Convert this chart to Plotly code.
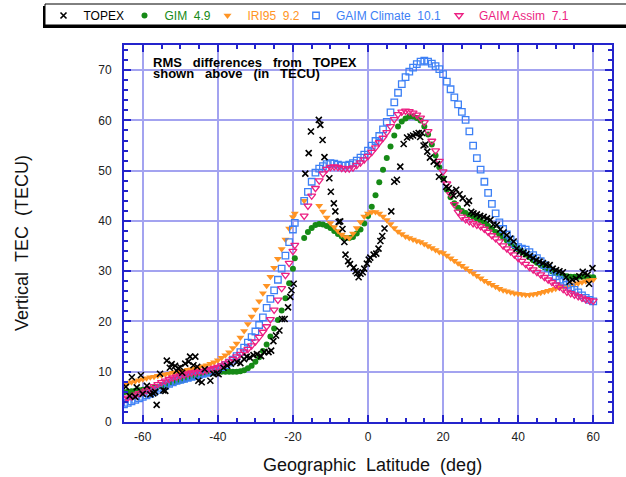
import plotly.graph_objects as go

NB = "\u00a0"

# ---------------- data ----------------
# model sampling latitudes (deg); gap between -19.5 and -17 as in the reference
LAT = list(range(-65, -19)) + [-19.5] + list(range(-17, 61))

GIM = [
    5.9, 6.0, 6.1, 6.2, 6.3, 6.4, 6.5, 6.6, 6.8, 7.0,
    7.2, 7.4, 7.6, 7.8, 8.0, 8.2, 8.4, 8.7, 8.9, 9.1,
    9.3, 9.5, 9.7, 9.8, 9.9, 10.0, 10.0, 10.0, 10.0, 10.0,
    10.0, 10.1, 10.3, 10.7, 11.2, 12.0, 12.9, 14.1, 15.4, 17.0,
    18.6, 20.3, 22.2, 24.6, 27.6, 30.5,
    32.6,
    36.6, 37.8, 38.6, 39.2, 39.4, 39.3, 39.0, 38.6, 38.0, 37.4,
    36.9, 36.6, 36.6, 36.8, 37.5, 38.3, 39.5, 41.0, 42.8, 45.1,
    47.7, 50.2, 52.5, 54.8, 57.0, 58.8, 59.8, 60.4, 60.8, 60.8,
    60.5, 60.0, 58.8, 57.2, 55.2, 53.0, 50.7, 48.5, 46.2, 44.7,
    43.5, 42.6, 42.0, 41.6, 41.2, 40.9, 40.5, 40.1, 39.6, 39.0,
    38.4, 37.8, 37.3, 36.7, 36.1, 35.5, 34.9, 34.3, 33.8, 33.3,
    32.8, 32.2, 31.7, 31.2, 30.8, 30.4, 30.0, 29.7, 29.4, 29.1,
    29.0, 28.9, 28.9, 28.9, 28.9, 28.9, 28.8, 28.8,
]

IRI95 = [
    7.5, 7.7, 7.9, 8.1, 8.3, 8.5, 8.7, 8.9, 9.0, 9.2,
    9.3, 9.5, 9.6, 9.8, 9.9, 10.1, 10.2, 10.4, 10.5, 10.7,
    10.9, 11.1, 11.3, 11.6, 11.9, 12.3, 12.8, 13.3, 13.9, 14.7,
    15.6, 16.8, 18.1, 19.5, 21.0, 22.4, 24.0, 25.6, 27.1, 28.9,
    30.7, 32.5, 34.4, 36.3, 38.5, 40.8,
    41.5,
    44.0, None, None, None, 43.0, 41.9, 40.7, 39.6, 38.8, 38.0,
    37.3, 36.8, 36.6, 37.5, 38.6, 39.8, 40.9, 41.5, 41.8, 41.8,
    41.5, 40.9, 40.2, 39.4, 38.6, 37.9, 37.4, 36.9, 36.6, 36.3,
    36.0, 35.8, 35.4, 35.0, 34.6, 34.2, 33.8, 33.6, 33.1, 32.6,
    32.1, 31.6, 31.1, 30.6, 30.1, 29.6, 29.1, 28.6, 28.1, 27.7,
    27.3, 26.9, 26.5, 26.2, 26.0, 25.8, 25.6, 25.5, 25.4, 25.3,
    25.3, 25.4, 25.5, 25.7, 25.9, 26.1, 26.3, 26.5, 26.7, 26.9,
    27.1, 27.2, 27.4, 27.6, 27.8, 28.0, 28.2, 28.3,
]

GAIM_CLIMATE = [
    3.5, 3.8, 4.1, 4.4, 4.7, 5.0, 5.3, 5.6, 6.0, 6.4,
    6.8, 7.2, 7.6, 7.9, 8.2, 8.4, 8.6, 8.8, 9.0, 9.2,
    9.4, 9.6, 9.8, 10.0, 10.2, 10.5, 10.9, 11.3, 11.8, 12.4,
    13.1, 13.9, 14.8, 15.8, 16.9, 18.0, 19.3, 20.8, 22.7, 24.5,
    26.2, 28.3, 30.5, 33.1, 35.8, 38.3,
    39.6,
    44.0, 45.8, 47.8, 49.6, 50.4, 50.9, 51.3, 51.5, 51.4, 51.2,
    51.0, 51.0, 51.2, 51.5, 52.0, 52.6, 53.2, 54.0, 55.0, 55.9,
    56.9, 58.2, 59.7, 61.6, 63.6, 65.5, 67.2, 68.6, 69.7, 70.5,
    71.2, 71.7, 71.9, 71.7, 71.3, 70.8, 70.2, 69.2, 67.7, 66.2,
    64.6, 63.2, 61.7, 60.1, 57.8, 55.0, 52.5, 50.2, 47.8, 45.6,
    43.4, 41.5, 39.7, 38.4, 37.3, 36.3, 35.4, 34.8, 34.5, 34.3,
    33.8, 33.2, 32.6, 32.0, 31.2, 30.5, 29.8, 29.0, 28.3, 27.9,
    27.3, 26.8, 26.3, 25.8, 25.2, 24.7, 24.3, 24.0,
]

GAIM_ASSIM = [
    4.5, 4.8, 5.1, 5.4, 5.7, 6.0, 6.3, 6.7, 7.1, 7.5,
    7.9, 8.2, 8.5, 8.8, 9.0, 9.2, 9.4, 9.6, 9.8, 9.9,
    10.0, 10.1, 10.3, 10.5, 10.7, 10.9, 11.2, 11.6, 12.0, 12.5,
    13.0, 13.5, 14.0, 14.5, 15.2, 16.0, 16.9, 17.9, 19.0, 20.4,
    22.3, 24.3, 26.6, 29.2, 31.6, 34.0,
    35.2,
    41.0, 43.0, 45.0, 46.5, 48.0, 49.4, 50.3, 50.7, 50.8, 50.7,
    50.5, 50.4, 50.4, 50.6, 51.1, 51.6, 52.2, 52.9, 53.7, 54.6,
    55.6, 56.5, 57.6, 58.8, 60.2, 61.2, 61.7, 61.9, 61.8, 61.5,
    61.1, 60.5, 59.6, 57.8, 55.9, 54.0, 51.9, 49.8, 47.4, 45.3,
    43.3, 41.8, 40.8, 40.3, 39.9, 39.5, 39.2, 38.9, 38.4, 37.8,
    37.1, 36.5, 35.9, 35.1, 34.5, 33.9, 33.3, 32.6, 32.0, 31.4,
    30.8, 30.3, 29.8, 29.3, 28.8, 28.3, 27.8, 27.3, 26.9, 26.4,
    25.9, 25.6, 25.3, 25.0, 24.7, 24.4, 24.2, 24.1,
]

TOPEX_LAT = [
    -64.5, -63.5, -62.9, -62.0, -61.6, -60.5, -60.0, -58.9, -58.0, -57.2,
    -56.7, -56.3, -55.4, -54.5, -54.0, -53.6, -52.8, -52.3, -51.4, -51.0,
    -50.5, -50.0, -49.5, -48.7, -47.8, -47.4, -46.5, -46.0, -45.5, -45.2,
    -44.3, -43.5, -42.0, -41.2, -40.3, -39.8, -38.5, -37.5, -36.5, -34.9,
    -34.0, -33.0, -32.3, -31.5, -30.5, -29.6, -28.5, -27.6, -26.5, -25.8,
    -25.2, -24.5, -23.6, -22.9, -22.2, -21.3, -20.7, -20.4, -19.8,
    -16.7, -15.8, -15.2, -13.1, -12.7, -12.1, -11.6, -10.3, -9.9, -9.1,
    -8.7, -7.8, -7.4, -6.8, -6.3, -6.0, -5.3, -4.8, -3.8, -3.3,
    -2.9, -2.5, -2.0, -1.4, -1.0, -0.3, 0.2, 0.6, 1.5, 2.2,
    2.8, 3.3, 3.8, 4.4, 6.2, 7.0, 7.7, 8.6, 9.5, 10.4,
    11.3, 12.0, 12.8, 13.5, 13.9, 14.4, 14.8, 15.3, 15.8, 16.5,
    17.5, 18.4, 18.9, 20.2, 20.8, 21.5, 22.3, 22.8, 23.5, 24.4,
    25.2, 26.4, 26.9, 27.5, 28.1, 29.0, 29.9, 30.8, 31.7, 32.6,
    33.4, 34.3, 35.2, 36.1, 37.0, 37.9, 38.8, 39.6, 40.5, 41.4,
    42.2, 43.1, 44.0, 44.8, 45.7, 46.6, 47.5, 48.4, 49.2, 50.1,
    51.0, 51.9, 52.8, 53.7, 54.5, 55.4, 56.3, 57.2, 57.8, 58.5,
    58.9, 59.8,
]
TOPEX_TEC = [
    7.0, 5.2, 8.9, 5.0, 6.9, 9.3, 5.6, 7.2, 5.5, 5.7,
    6.0, 3.4, 9.6, 6.3, 6.2, 12.2, 10.8, 11.5, 11.2, 10.2,
    10.7, 10.9, 9.8, 11.6, 12.0, 13.0, 11.3, 13.0, 11.0, 8.2,
    7.9, 10.5, 8.2, 9.6, 9.7, 9.5, 10.8, 11.2, 11.6, 11.9,
    11.7, 12.5, 13.0, 12.8, 13.3, 13.5, 13.1, 13.9, 13.9, 14.2,
    16.1, 17.2, 18.2, 20.5, 20.5, 22.8, 24.9, 26.2, 27.5,
    49.4, 53.5, 57.8, 60.1, 59.1, 56.1, 52.7, 48.5, 45.8, 43.5,
    41.9, 39.8, 39.9, 38.4, 35.8, 33.3, 32.0, 31.4, 30.7, 30.0,
    29.6, 28.8, 29.5, 29.8, 30.5, 31.5, 32.3, 32.7, 33.3, 33.5,
    34.5, 36.0, 37.0, 38.5, 41.9, 47.8, 48.2, 50.8, 55.3, 56.6,
    56.8, 57.0, 57.3, 57.5, 56.7, 57.5, 55.0, 55.2, 53.8, 52.6,
    51.8, 51.3, 48.8, 48.3, 46.8, 46.5, 45.8, 45.0, 46.2, 45.3,
    44.5, 43.5, 44.0, 41.8, 41.5, 41.3, 41.0, 40.8, 40.5, 40.2,
    39.3, 39.2, 38.3, 37.7, 37.2, 36.5, 35.9, 34.5, 34.0, 33.7,
    33.4, 33.0, 32.6, 32.2, 31.9, 31.6, 31.3, 31.2, 30.5, 30.2,
    30.0, 29.8, 28.8, 27.9, 28.3, 28.5, 29.0, 29.9, 29.6, 29.3,
    27.5, 30.6,
]

RMS = {"GIM": "4.9", "IRI95": "9.2", "GAIM Climate": "10.1", "GAIM Assim": "7.1"}

X_TICKS = [-60, -40, -20, 0, 20, 40, 60]
Y_TICKS = [0, 10, 20, 30, 40, 50, 60, 70]

# ---------------- style ----------------
C_GIM = "#168a16"
C_IRI = "#ff9424"
C_CLIM = "#3d80f5"
C_ASSIM = "#ec1f82"
AXIS_BLUE = "#2424cc"
GRID_BLUE = "#a3a3f0"
FONT = "Liberation Sans, Arial, sans-serif"

W, H = 626, 477
ML, MR, MT, MB = 124, 14, 45, 55
PW, PH = W - ML - MR, H - MT - MB


def px2x(px):
    return (px - ML) / PW


def py2y(py):
    return (H - MB - py) / PH


def lname(label, color):
    txt = label if label not in RMS else label + NB + NB + RMS[label]
    return "<span style='color:%s'>%s</span>" % (color, txt)


fig = go.Figure()

fig.add_trace(go.Scatter(
    x=LAT, y=GIM, mode="markers", name=lname("GIM", C_GIM), legend="legend2",
    marker=dict(symbol="circle", size=6, color=C_GIM, line=dict(width=0)),
))
fig.add_trace(go.Scatter(
    x=LAT, y=IRI95, mode="markers", name=lname("IRI95", C_IRI), legend="legend3",
    marker=dict(symbol="triangle-down", size=7, color=C_IRI, line=dict(width=0)),
))
fig.add_trace(go.Scatter(
    x=LAT, y=GAIM_CLIMATE, mode="markers", name=lname("GAIM Climate", C_CLIM), legend="legend4",
    marker=dict(symbol="square-open", size=6.5, color=C_CLIM, line=dict(width=1.3, color=C_CLIM)),
))
fig.add_trace(go.Scatter(
    x=LAT, y=GAIM_ASSIM, mode="markers", name=lname("GAIM Assim", C_ASSIM), legend="legend5",
    marker=dict(symbol="triangle-down-open", size=7, color=C_ASSIM, line=dict(width=1.3, color=C_ASSIM)),
))
fig.add_trace(go.Scatter(
    x=TOPEX_LAT, y=TOPEX_TEC, mode="markers", name=lname("TOPEX", "#000000"), legend="legend",
    marker=dict(symbol="x-thin", size=6, color="#000000", line=dict(width=1.6, color="#000000")),
))

axis_common = dict(
    showline=True, linecolor=AXIS_BLUE, linewidth=2, mirror="ticks",
    ticks="inside", ticklen=7, tickwidth=2, tickcolor=AXIS_BLUE,
    showgrid=True, gridcolor=GRID_BLUE, gridwidth=1.5,
    zeroline=False,
    tickfont=dict(family=FONT, size=12, color="#222222"),
)

fig.update_xaxes(
    range=[-65, 65], tickvals=X_TICKS, ticktext=[str(v) for v in X_TICKS],
    minor=dict(dtick=5, tick0=0, ticks="inside", ticklen=4, tickwidth=1.5,
               tickcolor=AXIS_BLUE, showgrid=False),
    ticklabelstandoff=3,
    **axis_common,
)
fig.update_yaxes(
    range=[0, 75], tickvals=Y_TICKS, ticktext=[str(v) for v in Y_TICKS],
    minor=dict(dtick=2, tick0=0, ticks="inside", ticklen=4, tickwidth=1.5,
               tickcolor=AXIS_BLUE, showgrid=False),
    ticklabelstandoff=8,
    **axis_common,
)

# axis titles
fig.add_annotation(xref="paper", yref="paper", x=px2x(372), y=py2y(465),
                   xanchor="center", yanchor="middle", showarrow=False,
                   text="Geographic" + NB + NB + "Latitude" + NB + NB + "(deg)",
                   font=dict(family=FONT, size=18, color="#111111"))
fig.add_annotation(xref="paper", yref="paper", x=px2x(22), y=py2y(243),
                   xanchor="center", yanchor="middle", showarrow=False, textangle=-90,
                   text="Vertical" + NB + NB + "TEC" + NB + NB + "(TECU)",
                   font=dict(family=FONT, size=18, color="#111111"))

# legend frame with drop shadow
fig.add_shape(type="rect", xref="paper", yref="paper",
              x0=px2x(43), x1=px2x(720), y0=py2y(28), y1=py2y(6),
              fillcolor="#000000", line=dict(width=0), layer="above")
fig.add_shape(type="rect", xref="paper", yref="paper",
              x0=px2x(45), x1=px2x(718), y0=py2y(25), y1=py2y(4),
              fillcolor="#ffffff", line=dict(width=1, color="#000000"), layer="above")

# RMS note
sp = NB + NB + NB
fig.add_annotation(xref="paper", yref="paper", x=px2x(151), y=py2y(62.5),
                   xanchor="left", yanchor="middle", showarrow=False, align="left",
                   text="<b>RMS" + sp + "differences" + sp + "from" + sp + "TOPEX</b>",
                   font=dict(family=FONT, size=13, color="#000000"))
fig.add_annotation(xref="paper", yref="paper", x=px2x(151), y=py2y(74),
                   xanchor="left", yanchor="middle", showarrow=False, align="left",
                   text="<b>shown" + sp + "above" + sp + "(in" + sp + "TECU)</b>",
                   font=dict(family=FONT, size=13, color="#000000"))


def leg(left_px):
    return dict(orientation="h", x=px2x(left_px), y=py2y(1), xanchor="left", yanchor="top",
                bgcolor="rgba(0,0,0,0)", borderwidth=0,
                font=dict(family=FONT, size=12), itemwidth=30)


fig.update_layout(
    width=W, height=H,
    margin=dict(l=ML, r=MR, t=MT, b=MB, autoexpand=False),
    paper_bgcolor="white", plot_bgcolor="white",
    font=dict(family=FONT, size=12, color="#000000"),
    showlegend=True,
    legend=leg(43.5),
    legend2=leg(124.5),
    legend3=leg(207.5),
    legend4=leg(296),
    legend5=leg(439),
)

fig.write_html("out.html", config={"displayModeBar": False},
               post_script="document.body.style.margin='0px';")
